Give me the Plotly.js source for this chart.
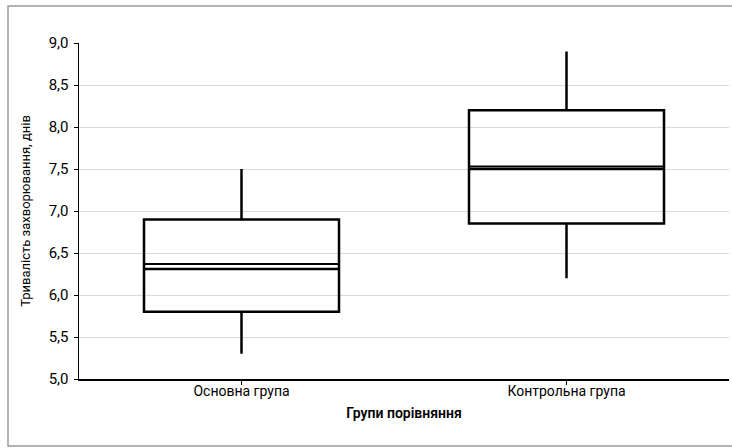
<!DOCTYPE html>
<html>
<head>
<meta charset="utf-8">
<script src="https://cdn.plot.ly/plotly-3.0.1.min.js"></script>
<style>html,body{margin:0;padding:0;background:#fff;}#chart{width:732px;height:448px;}</style>
</head>
<body>
<div id="chart"></div>
<script>
const categories = ["Основна група", "Контрольна група"];
const lowerWhisker = [5.3, 6.2];
const q1 = [5.8, 6.85];
const median = [6.31, 7.50];
const mean = [6.37, 7.53];
const q3 = [6.9, 8.2];
const upperWhisker = [7.5, 8.9];
const yTicks = [5.0, 5.5, 6.0, 6.5, 7.0, 7.5, 8.0, 8.5, 9.0];

const positions = categories.map((c, i) => i);
const boxWidth = 0.6;

const traces = [{
  type: 'box',
  x: positions,
  lowerfence: lowerWhisker,
  q1: q1,
  median: median,
  q3: q3,
  upperfence: upperWhisker,
  width: boxWidth,
  whiskerwidth: 0,
  fillcolor: 'rgba(255,255,255,0)',
  line: {color: '#000', width: 2.5},
  hoverinfo: 'skip',
  showlegend: false
}];
positions.forEach((p, i) => {
  traces.push({
    type: 'scatter',
    mode: 'lines',
    x: [p - boxWidth / 2, p + boxWidth / 2],
    y: [mean[i], mean[i]],
    line: {color: '#000', width: 2},
    hoverinfo: 'skip',
    showlegend: false
  });
});

const layout = {
  width: 732, height: 448,
  margin: {l: 79, r: 3, t: 43, b: 69},
  paper_bgcolor: '#fff', plot_bgcolor: '#fff',
  separators: ',.',
  font: {family: 'Roboto, "DejaVu Sans", sans-serif', size: 14, color: '#000'},
  xaxis: {
    range: [-0.5, 1.5],
    tickvals: positions,
    ticktext: categories,
    showgrid: false, zeroline: false,
    showline: true, linecolor: '#000', linewidth: 1.5,
    ticks: 'outside', ticklen: 4, tickcolor: '#000',
    ticklabelstandoff: -5,
    tickfont: {size: 14},
    title: {text: 'Групи порівняння', font: {size: 14, weight: 600}, standoff: 10}
  },
  yaxis: {
    range: [5, 9],
    tickvals: yTicks,
    tickformat: '.1f',
    showgrid: true, gridcolor: '#d9d9d9', gridwidth: 1,
    zeroline: false,
    showline: true, linecolor: '#000', linewidth: 1.5,
    ticks: 'outside', ticklen: 4, tickcolor: '#000',
    ticklabelstandoff: 2,
    tickfont: {size: 15},
    title: {text: 'Тривалість захворювання, днів', font: {size: 13}, standoff: 15}
  },
  shapes: [{
    type: 'rect', xref: 'paper', yref: 'paper',
    x0: -71/650, x1: 1.2, y0: -67/336, y1: 1 + 37/336,
    line: {color: '#999', width: 1.5}, fillcolor: 'rgba(0,0,0,0)', layer: 'below'
  }]
};

Plotly.newPlot('chart', traces, layout, {staticPlot: true});
</script>
</body>
</html>
